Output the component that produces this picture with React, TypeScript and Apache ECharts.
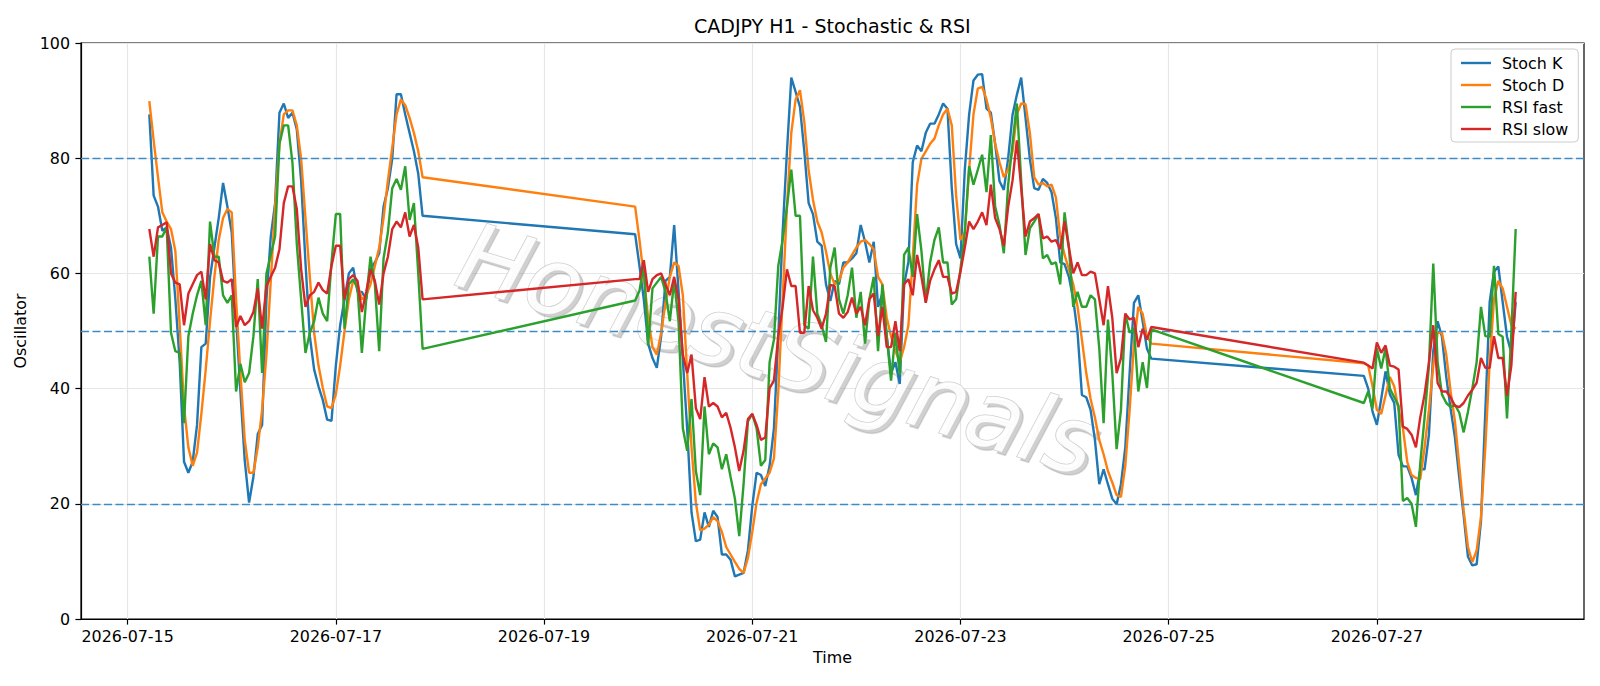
import React, { useEffect, useRef } from "react";
import * as echarts from "echarts";

// ---------------- data ----------------
const TITLE = "CADJPY H1 - Stochastic & RSI";
const ORIGIN = "2026-07-15T00:00:00Z";
// hourly bars, three trading blocks (weekends skipped)
const SEGMENT_STARTS = ["2026-07-15T05:00:00Z", "2026-07-19T21:00:00Z", "2026-07-26T21:00:00Z"];
const SEGMENT_LENGTHS = [64, 120, 36];
const X_TICK_LABELS = ["2026-07-15", "2026-07-17", "2026-07-19", "2026-07-21", "2026-07-23", "2026-07-25", "2026-07-27"];
const Y_TICKS = [0, 20, 40, 60, 80, 100];
const LEVELS = [80, 50, 20];
const SERIES_NAMES = ["Stoch K", "Stoch D", "RSI fast", "RSI slow"];
const WATERMARK = "HonestSignals";

const STOCH_K = [
  // Jul 15 05:00 - Jul 17 20:00
  87.6, 73.5, 71.6, 67.4, 68.0, 64.5, 55.6, 44.6, 27.3, 25.4,
  27.3, 33.7, 47.2, 47.8, 59.3, 64.5, 69.6, 75.7, 71.6, 67.1,
  52.3, 39.5, 27.5, 20.2, 24.7, 32.1, 33.7, 55.5, 66.4, 72.2,
  87.9, 89.5, 87.0, 87.9, 85.0, 76.1, 61.9, 49.1, 43.3, 40.4,
  38.0, 34.6, 34.4, 44.0, 51.0, 55.5, 60.0, 61.0, 56.8, 56.8,
  55.5, 60.7, 61.9, 63.5, 71.6, 74.8, 79.9, 91.1, 91.1, 87.6,
  84.4, 81.2, 77.3, 70.0,
  // Jul 19 21:00 - Jul 24 20:00
  66.8, 61.3, 55.5, 47.8, 45.3, 43.6, 49.1, 58.7, 59.4, 68.4,
  57.0, 45.0, 33.0, 18.5, 13.5, 13.8, 18.5, 16.0, 18.8, 17.7,
  11.2, 11.2, 10.3, 7.4, 7.7, 8.0, 11.9, 19.6, 25.4, 25.0,
  23.1, 26.6, 33.1, 49.1, 67.1, 81.2, 94.0, 91.5, 88.9, 81.2,
  72.2, 70.3, 65.5, 64.8, 58.1, 55.2, 58.7, 58.1, 61.9, 61.9,
  62.6, 63.5, 68.4, 65.5, 61.9, 65.5, 54.2, 56.5, 49.1, 42.7,
  44.6, 40.8, 58.0, 62.0, 79.3, 82.2, 81.2, 84.4, 86.0, 86.0,
  87.6, 89.5, 88.6, 74.8, 65.1, 62.6, 78.0, 87.6, 93.5, 94.5,
  94.6, 88.6, 87.9, 82.5, 76.0, 74.5, 80.0, 87.5, 91.0, 94.0,
  87.0, 79.9, 74.8, 74.5, 76.4, 75.7, 74.1, 69.6, 61.9, 61.6,
  59.4, 55.5, 49.7, 38.9, 38.5, 36.3, 31.1, 23.4, 26.0, 23.4,
  20.9, 19.9, 23.4, 29.8, 42.7, 54.9, 56.2, 51.7, 46.9, 45.2,
  // Jul 26 21:00 - Jul 28 08:00
  42.2, 40.0, 36.0, 33.7, 38.2, 43.0, 39.0, 37.5, 28.5, 26.5,
  26.5, 24.5, 21.5, 26.0, 26.0, 32.0, 46.5, 51.7, 49.0, 42.0,
  36.5, 31.5, 24.5, 18.0, 10.8, 9.3, 9.5, 17.0, 36.0, 55.0,
  60.3, 61.2, 55.0, 49.0, 46.2, 55.0,
];

const STOCH_D = [
  89.9, 83.1, 76.7, 70.6, 69.0, 67.7, 63.9, 51.0, 36.9, 29.8,
  26.6, 28.9, 35.6, 43.3, 51.7, 59.4, 65.8, 69.6, 71.2, 70.6,
  55.5, 42.7, 31.1, 25.4, 25.4, 29.8, 36.3, 45.9, 58.7, 71.6,
  82.5, 87.6, 88.3, 88.3, 85.7, 79.9, 69.6, 59.4, 49.7, 44.0,
  40.1, 36.9, 36.6, 39.0, 44.0, 50.0, 55.5, 58.7, 58.1, 55.5,
  56.2, 58.1, 61.3, 64.5, 69.6, 76.1, 81.8, 87.6, 90.2, 89.2,
  87.0, 84.4, 81.2, 76.7,
  71.6, 65.8, 59.4, 52.3, 47.2, 45.9, 49.7, 54.9, 59.4, 61.9,
  61.3, 56.2, 42.7, 29.8, 20.2, 15.4, 15.7, 16.4, 17.7, 17.0,
  15.1, 12.5, 11.2, 9.9, 8.7, 8.0, 10.6, 15.1, 20.2, 23.4,
  24.4, 25.4, 27.9, 39.5, 55.5, 71.6, 84.4, 90.2, 91.8, 86.3,
  77.9, 72.8, 69.0, 67.1, 63.8, 60.0, 58.1, 58.7, 61.0, 61.9,
  63.2, 64.5, 65.5, 65.8, 65.1, 64.2, 59.4, 58.1, 52.3, 49.1,
  46.5, 44.6, 47.2, 51.0, 62.6, 75.4, 79.9, 81.2, 82.5, 83.4,
  85.7, 87.6, 88.6, 85.7, 73.5, 65.8, 67.1, 78.0, 87.6, 92.1,
  92.4, 90.2, 87.0, 82.5, 79.3, 76.7, 78.0, 81.2, 87.6, 89.5,
  89.4, 84.4, 76.7, 75.4, 75.7, 75.1, 75.4, 73.2, 66.4, 63.2,
  60.7, 58.1, 54.2, 48.5, 42.7, 38.2, 35.0, 31.1, 28.6, 25.7,
  23.7, 21.5, 21.2, 26.6, 36.3, 47.8, 54.2, 53.0, 49.1, 47.8,
  44.4, 44.0, 40.4, 36.3, 35.6, 38.8, 42.0, 40.4, 36.3, 33.1,
  27.3, 25.0, 24.5, 24.3, 29.8, 36.3, 44.0, 49.7, 49.7, 45.9,
  39.5, 34.3, 26.6, 18.9, 12.5, 9.9, 11.9, 17.7, 29.8, 44.6,
  55.5, 58.7, 57.4, 54.2, 51.0, 50.4,
];

const RSI_FAST = [
  62.9, 53.0, 66.4, 66.4, 68.0, 49.7, 46.5, 46.2, 34.0, 49.1,
  53.0, 56.2, 58.7, 51.0, 69.0, 62.9, 62.9, 56.2, 54.9, 56.2,
  39.5, 44.3, 41.1, 42.7, 49.1, 59.0, 42.7, 60.0, 63.2, 66.4,
  82.5, 85.7, 85.7, 79.2, 65.1, 55.5, 46.2, 49.7, 51.7, 55.8,
  53.0, 51.7, 61.9, 70.3, 70.3, 50.4, 58.1, 59.0, 57.4, 46.2,
  55.5, 62.9, 58.1, 46.5, 62.6, 67.1, 74.8, 76.4, 74.5, 78.6,
  69.3, 72.2, 60.0, 46.9,
  55.3, 57.0, 61.5, 47.5, 57.4, 58.4, 59.4, 56.8, 51.7, 58.7,
  51.7, 33.1, 29.2, 38.2, 25.7, 21.5, 36.9, 28.6, 30.5, 29.8,
  26.0, 28.6, 24.7, 20.9, 14.4, 23.4, 34.3, 35.6, 33.1, 26.6,
  27.6, 44.6, 48.5, 61.3, 65.8, 71.6, 78.0, 70.0, 70.0, 51.0,
  50.4, 62.9, 53.0, 51.0, 48.1, 61.0, 64.5, 55.5, 53.0, 56.2,
  61.0, 52.3, 56.8, 47.8, 55.5, 59.4, 46.5, 58.1, 49.1, 41.4,
  49.7, 42.4, 63.2, 64.5, 59.4, 70.3, 63.9, 55.0, 61.9, 65.8,
  68.0, 61.9, 61.9, 54.6, 55.5, 60.7, 67.1, 78.6, 75.4, 78.0,
  80.6, 74.1, 84.0, 71.6, 68.4, 63.5, 75.4, 82.5, 89.5, 76.1,
  63.2, 67.8, 69.0, 70.3, 62.6, 63.2, 61.6, 61.9, 58.1, 70.6,
  64.5, 54.2, 56.8, 54.2, 54.2, 56.2, 55.5, 47.0, 34.0, 52.0,
  42.7, 29.5, 36.3, 53.0, 49.7, 50.5, 39.5, 44.6, 40.1, 50.3,
  37.5, 39.5, 36.5, 47.0, 43.5, 47.0, 40.0, 38.5, 37.0, 20.5,
  21.0, 20.0, 16.0, 27.0, 35.0, 44.0, 61.7, 44.6, 39.0, 37.5,
  36.8, 37.2, 35.8, 32.4, 36.0, 40.0, 44.6, 54.2, 49.1, 49.0,
  61.3, 49.5, 49.0, 34.8, 49.7, 67.7,
];

const RSI_SLOW = [
  67.7, 62.9, 68.0, 68.4, 68.9, 60.0, 58.4, 58.1, 51.0, 56.5,
  58.1, 59.7, 60.3, 55.5, 65.1, 62.3, 61.9, 58.7, 58.4, 59.0,
  50.7, 52.6, 51.0, 51.7, 53.3, 57.4, 50.4, 57.8, 59.4, 61.0,
  64.2, 72.2, 75.1, 75.1, 71.2, 60.7, 54.2, 56.2, 56.8, 58.4,
  57.1, 56.5, 61.3, 64.8, 64.8, 55.5, 59.0, 59.7, 58.7, 53.3,
  56.8, 60.7, 58.7, 54.6, 60.0, 62.9, 67.7, 69.0, 68.0, 70.6,
  66.4, 68.4, 64.5, 55.5,
  59.0, 59.0, 62.3, 56.8, 59.0, 59.7, 60.0, 58.1, 56.2, 59.4,
  55.5, 45.9, 42.7, 45.9, 36.6, 34.7, 42.0, 36.9, 37.5, 36.9,
  35.0, 35.8, 33.2, 29.8, 25.7, 29.2, 34.7, 35.6, 33.7, 31.1,
  31.5, 40.1, 41.4, 49.1, 54.2, 60.7, 57.8, 57.8, 49.7, 49.7,
  57.8, 53.6, 52.3, 50.4, 53.0, 58.0, 57.8, 53.0, 52.3, 53.3,
  55.8, 53.0, 54.2, 51.0, 55.5, 56.5, 49.1, 54.2, 47.2, 47.2,
  51.7, 46.5, 58.1, 59.0, 56.2, 63.2, 59.4, 54.9, 58.7, 60.7,
  62.3, 59.4, 59.4, 56.5, 56.8, 60.3, 64.5, 69.0, 67.7, 69.0,
  70.6, 68.4, 75.4, 69.6, 67.7, 64.8, 71.6, 76.1, 83.1, 74.8,
  66.4, 69.0, 69.6, 70.3, 66.1, 66.4, 65.5, 65.8, 64.2, 69.0,
  64.5, 60.0, 61.9, 59.7, 59.7, 60.3, 60.0, 55.5, 51.0, 57.8,
  52.3, 42.7, 45.3, 53.0, 52.0, 52.3, 47.2, 50.4, 48.5, 50.7,
  44.5, 44.0, 43.5, 48.0, 46.2, 47.5, 44.0, 43.8, 43.3, 33.4,
  33.0, 32.0, 29.8, 35.0, 39.0, 44.5, 51.0, 41.0, 39.5, 39.5,
  38.5, 37.0, 36.8, 37.5, 38.8, 39.8, 41.0, 45.3, 43.6, 43.6,
  49.1, 45.3, 45.3, 38.8, 44.0, 56.8,
];

// ---------------- helpers ----------------
const HOUR_MS = 3600000;
const T0 = Date.parse(ORIGIN);
const HOURS: number[] = [];
SEGMENT_STARTS.forEach((s, i) => {
  const h0 = (Date.parse(s) - T0) / HOUR_MS;
  for (let k = 0; k < SEGMENT_LENGTHS[i]; k++) HOURS.push(h0 + k);
});
const TICK_HOURS = X_TICK_LABELS.map((l) => (Date.parse(l + "T00:00:00Z") - T0) / HOUR_MS);
const X_MIN = -10.75;
const X_MAX = 335.75;

const COLORS = ["#1f77b4", "#ff7f0e", "#2ca02c", "#d62728"];
const FONT = "DejaVu Sans";
const FS = 15.9;

const WM_X = 778;
const WM_Y = 350;
const WM_ROT = (-17 * Math.PI) / 180;

export default function App() {
  const ref = useRef<HTMLDivElement>(null);
  useEffect(() => {
    if (!ref.current) return;
    const chart = echarts.init(ref.current, null, { renderer: "svg" });
    const values = [STOCH_K, STOCH_D, RSI_FAST, RSI_SLOW];
    const series: any[] = SERIES_NAMES.map((name, i) => ({
      name,
      type: "line",
      showSymbol: false,
      symbol: "none",
      z: 3 + i,
      lineStyle: { color: COLORS[i], width: 2.4 },
      itemStyle: { color: COLORS[i] },
      data: values[i].map((v, k) => [HOURS[k], v]),
    }));
    series[0].markLine = {
      silent: true,
      symbol: ["none", "none"],
      label: { show: false },
      lineStyle: { color: "#3d8bc4", width: 1.4, type: [8, 3.5] },
      data: LEVELS.map((l) => ({ yAxis: l })),
    };
    const wmBase = {
      text: WATERMARK,
      fontSize: 93,
      fontFamily: FONT,
      fontStyle: "italic",
      align: "center",
      verticalAlign: "middle",
    };
    chart.setOption({
      animation: false,
      backgroundColor: "#ffffff",
      title: {
        text: TITLE,
        left: 694,
        top: 16,
        padding: 0,
        textStyle: { fontFamily: FONT, fontSize: 19, fontWeight: "normal", color: "#000" },
      },
      grid: {
        left: 81,
        right: 16,
        top: 43,
        bottom: 67,
        show: true,
        borderColor: "#000",
        borderWidth: 1.2,
        backgroundColor: "transparent",
      },
      legend: {
        data: SERIES_NAMES,
        orient: "vertical",
        left: 1451,
        top: 49,
        icon: "rect",
        itemWidth: 30,
        itemHeight: 2.4,
        itemGap: 6,
        padding: [6, 10, 5, 10],
        borderColor: "#cccccc",
        borderWidth: 1,
        borderRadius: 4,
        backgroundColor: "rgba(255,255,255,0.8)",
        textStyle: { fontFamily: FONT, fontSize: FS, color: "#000", lineHeight: 16, padding: [0, 0, 0, 6] },
      },
      xAxis: {
        type: "value",
        min: X_MIN,
        max: X_MAX,
        name: "Time",
        nameLocation: "middle",
        nameGap: 30,
        nameTextStyle: { fontFamily: FONT, fontSize: FS, color: "#000" },
        axisLine: { show: true, onZero: false, lineStyle: { color: "#000", width: 1.2 } },
        axisTick: { show: true, length: 5.6, customValues: TICK_HOURS, lineStyle: { color: "#000", width: 1.2 } },
        axisLabel: {
          customValues: TICK_HOURS,
          margin: 9,
          fontFamily: FONT,
          fontSize: FS,
          color: "#000",
          formatter: (v: number) => new Date(T0 + v * HOUR_MS).toISOString().slice(0, 10),
        },
        splitLine: { show: true, lineStyle: { color: "#e6e6e6", width: 1.2 } },
      },
      yAxis: {
        type: "value",
        min: Y_TICKS[0],
        max: Y_TICKS[Y_TICKS.length - 1],
        interval: 20,
        name: "Oscillator",
        nameLocation: "middle",
        nameGap: 47,
        nameTextStyle: { fontFamily: FONT, fontSize: FS, color: "#000" },
        axisLine: { show: true, onZero: false, lineStyle: { color: "#000", width: 1.2 } },
        axisTick: { show: true, length: 5.6, lineStyle: { color: "#000", width: 1.2 } },
        axisLabel: { margin: 11, fontFamily: FONT, fontSize: FS, color: "#000" },
        splitLine: { show: true, lineStyle: { color: "#e6e6e6", width: 1.2 } },
      },
      graphic: [
        {
          type: "text",
          x: WM_X + 3.5,
          y: WM_Y + 3.5,
          rotation: WM_ROT,
          z: 1,
          silent: true,
          style: { ...wmBase, fill: "rgba(150,150,150,0.45)", stroke: "rgba(150,150,150,0.3)", lineWidth: 1.5 },
        },
        {
          type: "text",
          x: WM_X,
          y: WM_Y,
          rotation: WM_ROT,
          z: 1,
          silent: true,
          style: { ...wmBase, fill: "rgba(255,255,255,0.92)", stroke: "#cfcfcf", lineWidth: 1.5 },
        },
      ],
      series,
    });
    return () => chart.dispose();
  }, []);
  return (
    <div
      ref={ref}
      style={{ position: "fixed", left: 0, top: 0, width: 1600, height: 686, background: "#fff" }}
    />
  );
}
